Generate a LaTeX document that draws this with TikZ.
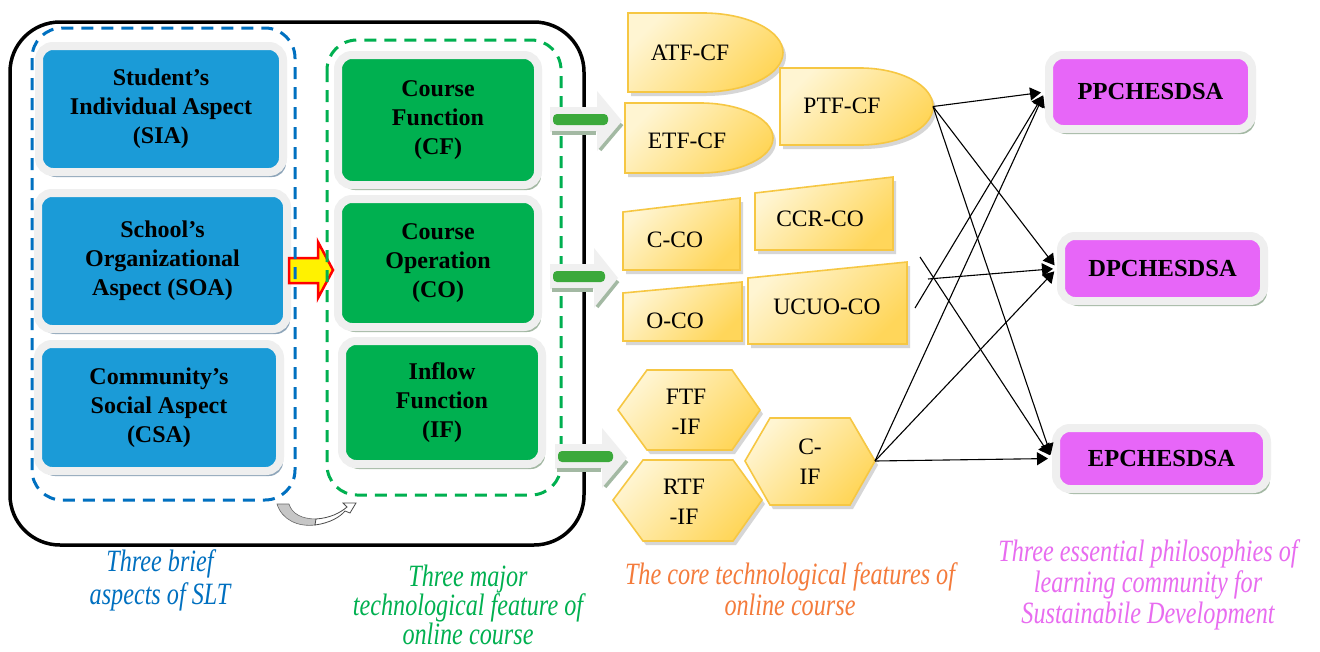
\documentclass[tikz,border=0pt]{standalone}
\usepackage{fontspec}
\setmainfont{Liberation Serif}
\newfontfamily\capfont{Liberation Serif}[FakeStretch=0.78]
\usetikzlibrary{arrows.meta,shadows}
\definecolor{sblue}{HTML}{1B9BD7}
\definecolor{sgreen}{HTML}{00B050}
\definecolor{smag}{HTML}{E766F8}
\definecolor{framec}{HTML}{EFEFEF}
\definecolor{shb}{HTML}{8FA6BA}
\definecolor{shg}{HTML}{A3B8A3}
\definecolor{dblue}{HTML}{0070C0}
\definecolor{dgreen}{HTML}{00B050}
\definecolor{yl}{HTML}{FFF5D2}
\definecolor{yd}{HTML}{FFD65A}
\definecolor{ygold}{HTML}{F6C743}
\definecolor{corange}{HTML}{F47B3B}
\definecolor{cmag}{HTML}{E86CF0}
\definecolor{barg}{HTML}{3BA93B}
\definecolor{bevel}{HTML}{A3B9A3}
\begin{document}
\begin{tikzpicture}[x=1pt,y=-1pt,
  box/.style={rectangle, rounded corners=14pt, draw=framec, line width=8pt, align=center, inner sep=0pt,
    font=\bfseries\fontsize{24}{29}\selectfont},
  bbox/.style={box, fill=sblue, drop shadow={shadow xshift=3pt, shadow yshift=-5pt, fill=shb, opacity=1}},
  gbox/.style={box, fill=sgreen, drop shadow={shadow xshift=3pt, shadow yshift=-5pt, fill=shg, opacity=1}},
  mbox/.style={box, fill=smag, font=\bfseries\fontsize{24.5}{28}\selectfont,
    drop shadow={shadow xshift=3pt, shadow yshift=-5pt, fill=shg, opacity=1}},
  yshape/.style={draw=ygold, line width=1.6pt, top color=yl, bottom color=yd, shading angle=45,
    preaction={fill=black!40, opacity=0.4, transform canvas={shift={(3pt,-4pt)}}}},
  ytext/.style={font=\fontsize{23.5}{30}\selectfont, align=center, inner sep=0pt},
  dashbox/.style={line width=3pt, dash pattern=on 12pt off 8pt, rounded corners=30pt},
  conn/.style={line width=1.1pt, -{Triangle[length=11pt,width=13pt]}, shorten >=4pt},
  captxt/.style={font=\capfont\itshape\fontsize{31}{31}\selectfont, align=center, inner sep=0pt}
]
\useasboundingbox (0,0) rectangle (1320,651);
\fill[white] (0,0) rectangle (1320,651);

% outer container
\draw[line width=3.5pt, rounded corners=50pt] (10,22) rectangle (584,545);

% boxes
\node[bbox, minimum width=244pt, minimum height=126pt] (sia) at (161,109) {Student’s\\Individual Aspect\\(SIA)};
\node[bbox, minimum width=249pt, minimum height=136pt] (soa) at (162.5,261) {School’s\\Organizational\\Aspect (SOA)};
\node[bbox, minimum width=242pt, minimum height=127pt] (csa) at (159,407.5) {Community’s\\Social Aspect\\(CSA)};
\node[gbox, minimum width=200pt, minimum height=130pt] (cf) at (438,120) {Course\\Function\\(CF)};
\node[gbox, minimum width=200pt, minimum height=128pt] (co) at (438,263) {Course\\Operation\\(CO)};
\node[gbox, minimum width=200pt, minimum height=123pt] (if) at (442,402.5) {Inflow\\Function\\(IF)};

% red / yellow block arrow
\draw[red, line width=2.5pt, fill=yellow, line join=miter]
  (289,258) -- (318,258) -- (318,242) -- (333,270) -- (318,298) -- (318,283) -- (289,283) -- cycle;

% dashed groups
\draw[dashbox, dblue] (32,28) rectangle (295,500);
\draw[dashbox, dgreen] (327,40) rectangle (561,495);

% curved arrow
\filldraw[fill=gray!45, draw=black!60, line width=0.6pt]
  (277,504) .. controls (282,520) and (298,527) .. (315,525) -- (316,519)
  .. controls (302,519) and (292,514) .. (289,504) -- cycle;
\filldraw[fill=white, draw=black!70, line width=0.8pt]
  (315,525) .. controls (330,523) and (340,517) .. (345,511) -- (350,513) -- (356,503)
  -- (343,503) -- (347,507) .. controls (340,513) and (330,518) .. (316,519) -- cycle;

% green block arrows
\foreach \c/\s/\h/\t in {120/550/597/622, 277/550/594/618, 457/555/602/627}{
  \fill[black!6] (\s,\c-13) -- (\h,\c-13) -- (\h,\c-29) -- (\t,\c+1) -- (\h,\c+31) -- (\h,\c+12) -- (\s,\c+12) -- cycle;
  \draw[bevel, line width=3.5pt] (\s+2,\c+13) -- (\h-1,\c+13);
  \draw[bevel, line width=3.5pt] (\h+3,\c+30) -- (\t,\c+4);
  \fill[barg, rounded corners=4pt] (\s+3,\c-6) rectangle (\h+11,\c+5);
}

% yellow shapes: CF group
\path[yshape] (628,13) -- (703,13) .. controls (747.2,13) and (783,30.7) .. (783,52.5)
  .. controls (783,74.3) and (747.2,92) .. (703,92) -- (628,92) -- cycle;
\path[yshape] (625,103) -- (700,103) .. controls (740.3,103) and (773,118.7) .. (773,138)
  .. controls (773,157.3) and (740.3,173) .. (700,173) -- (625,173) -- cycle;
\path[yshape] (780,68) -- (860,68) .. controls (900.3,68) and (933,85.2) .. (933,106.5)
  .. controls (933,127.8) and (900.3,145) .. (860,145) -- (780,145) -- cycle;
\node[ytext] (atf) at (690,53) {ATF-CF};
\node[ytext] (etf) at (687,141) {ETF-CF};
\node[ytext] (ptf) at (842,106) {PTF-CF};

% CO group
\path[yshape] (623,212) -- (740,198) -- (740,270) -- (623,270) -- cycle;
\path[yshape] (755,193) -- (893,177) -- (893,250) -- (755,250) -- cycle;
\path[yshape] (623,293) -- (742,282) -- (742,341) -- (623,341) -- cycle;
\path[yshape] (748,278) -- (907,262) -- (907,344) -- (748,344) -- cycle;
\node[ytext] (cco) at (675,240) {C-CO};
\node[ytext] (ccr) at (820,219) {CCR-CO};
\node[ytext] (oco) at (675,321) {O-CO};
\node[ytext] (ucuo) at (827,307) {UCUO-CO};

% IF group
\path[yshape] (618,410) -- (647,370) -- (732,370) -- (760,410) -- (732,450) -- (647,450) -- cycle;
\path[yshape] (613,500) -- (643,460) -- (733,460) -- (762,500) -- (733,541) -- (643,541) -- cycle;
\path[yshape] (745,461) -- (770,418) -- (850,418) -- (875,461) -- (850,505) -- (770,505) -- cycle;
\node[ytext] (ftf) at (686,412) {FTF\\-IF};
\node[ytext] (rtf) at (684,502) {RTF\\-IF};
\node[ytext] (cif) at (810,462) {C-\\IF};

% philosophy boxes
\node[mbox, minimum width=203pt, minimum height=74pt] (pp) at (1150.5,92) {PPCHESDSA};
\node[mbox, minimum width=203pt, minimum height=65pt] (dp) at (1162.5,268.5) {DPCHESDSA};
\node[mbox, minimum width=211pt, minimum height=61pt] (ep) at (1161.5,458.5) {EPCHESDSA};

% connectors
\coordinate (ptfr) at (933,106.5);
\coordinate (cifr) at (875,461);
\coordinate (u1) at (920,257);
\coordinate (u2) at (928,279);
\coordinate (u3) at (915,308);
\draw[conn] (ptfr) -- (pp.west);
\draw[conn] (ptfr) -- (dp.west);
\draw[conn] (ptfr) -- (ep.west);
\draw[conn] (u1) -- (ep.west);
\draw[conn] (u2) -- (dp.west);
\draw[conn] (u3) -- (pp.west);
\draw[conn] (cifr) -- (pp.west);
\draw[conn] (cifr) -- (dp.west);
\draw[conn] (cifr) -- (ep.west);

% captions
\node[captxt, text=dblue] (c1) at (160,580) {Three brief\\[2pt]aspects of SLT};
\node[captxt, text=dgreen, font=\capfont\itshape\fontsize{31}{28}\selectfont] (c2) at (468,605) {Three major\\technological feature of\\online course};
\node[captxt, text=corange] (c3) at (790,589) {The core technological features of\\online course};
\node[captxt, text=cmag] (c4) at (1148,585) {Three essential philosophies of\\learning community for\\Sustainabile Development};
\end{tikzpicture}
\end{document}
